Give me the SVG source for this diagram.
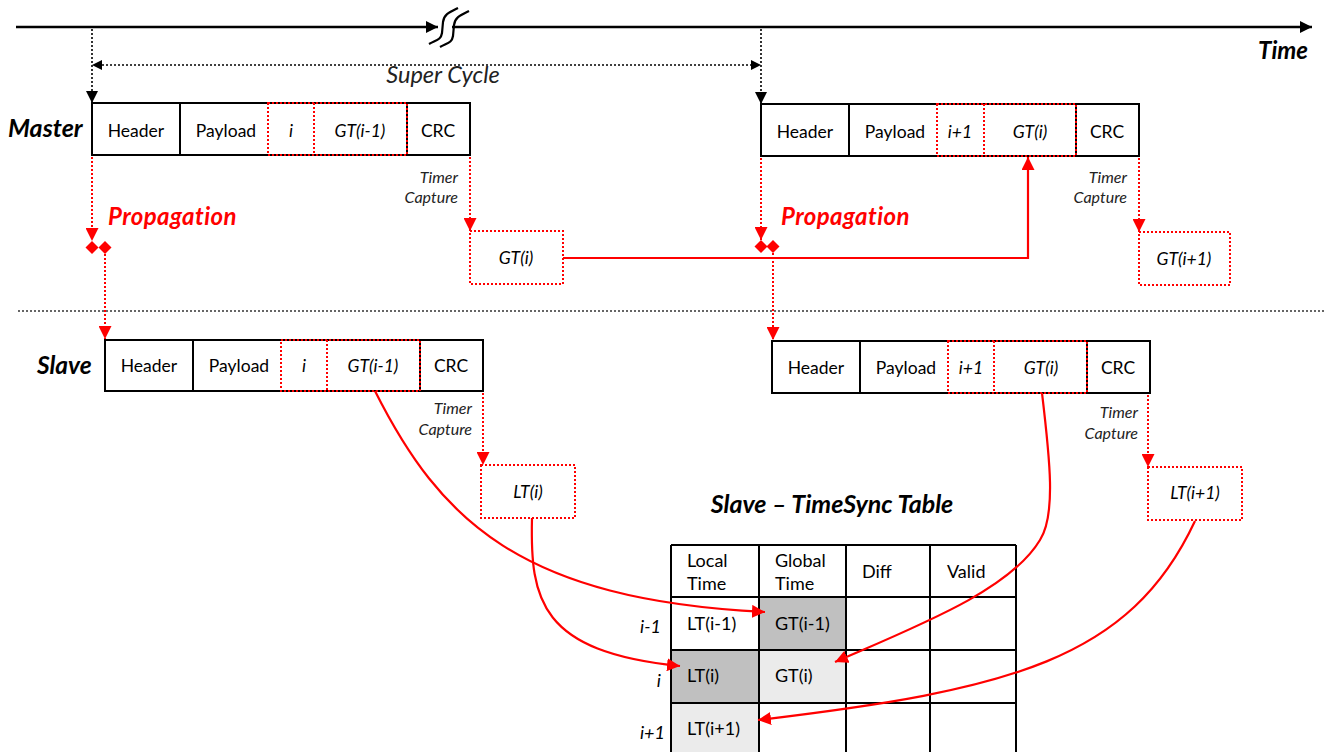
<svg xmlns="http://www.w3.org/2000/svg" width="1334" height="752" viewBox="0 0 1334 752">
<style>
text{font-family:Lato,"Open Sans","Liberation Sans",sans-serif;fill:#000}
.t{font-size:17.5px;text-anchor:middle}
.ti{font-size:17.5px;text-anchor:middle;font-style:italic}
.lbl{font-size:25px;font-weight:bold;font-style:italic}
.tc{font-size:16px;font-style:italic;text-anchor:end;fill:#222}
.prop{font-size:24px;font-weight:bold;font-style:italic;fill:#ff0000;letter-spacing:0.4px}
.cell{font-size:18px}
.rl{font-size:18px;font-style:italic;text-anchor:end}
.frame{fill:#fff;stroke:#000;stroke-width:2}
.div{stroke:#000;stroke-width:2}
.rdot{fill:none;stroke:#ff0000;stroke-width:2;stroke-dasharray:2 2}
.kdot{fill:none;stroke:#000;stroke-width:1.6;stroke-dasharray:2 2}
.red{fill:none;stroke:#ff0000;stroke-width:2.2}
.tab{fill:none;stroke:#000;stroke-width:2}
</style>
<defs>
<marker id="ak" viewBox="0 0 10 10" refX="10" refY="5" markerWidth="12" markerHeight="12" markerUnits="userSpaceOnUse" orient="auto"><path d="M0,0 L10,5 L0,10 Z" fill="#000"/></marker>
<marker id="ar" viewBox="0 0 10 10" refX="10" refY="5" markerWidth="13" markerHeight="13" markerUnits="userSpaceOnUse" orient="auto"><path d="M0,0 L10,5 L0,10 Z" fill="#ff0000"/></marker>
</defs>

<g id="time-axis">
<line x1="16" y1="27" x2="438" y2="27" stroke="#000" stroke-width="2.5" marker-end="url(#ak)"/>
<line x1="452" y1="27" x2="1312" y2="27" stroke="#000" stroke-width="2.5" marker-end="url(#ak)"/>
<path d="M429,44 C436,40 441,40 442,33 L443,22 C444,14 450,12 458,8" fill="none" stroke="#000" stroke-width="2.2"/>
<path d="M440,47 C447,43 452,43 453,36 L454,25 C455,17 461,15 469,11" fill="none" stroke="#000" stroke-width="2.2"/>
<text x="1308" y="59" class="lbl" style="font-size:24px" text-anchor="end">Time</text>
</g>

<g id="super-cycle">
<line x1="92" y1="29" x2="92" y2="103" class="kdot" marker-end="url(#ak)"/>
<line x1="761" y1="29" x2="761" y2="104" class="kdot" marker-end="url(#ak)"/>
<line x1="98" y1="65" x2="755" y2="65" class="kdot"/>
<path d="M92,65 L102,60 L102,70 Z" fill="#000"/>
<path d="M761,65 L751,60 L751,70 Z" fill="#000"/>
<text x="443" y="83" style="font-size:23.5px;font-style:italic;text-anchor:middle;fill:#222">Super Cycle</text>
</g>

<g id="master-label"><text x="8" y="137" class="lbl">Master</text></g>
<g id="slave-label"><text x="37" y="374" class="lbl" style="font-size:24.5px">Slave</text></g>

<g id="master-frame-1">
<rect x="92" y="103" width="378" height="52" class="frame"/>
<line x1="180" y1="103" x2="180" y2="155" class="div"/>
<line x1="407" y1="103" x2="407" y2="155" class="div"/>
<rect x="268" y="103" width="139" height="52" class="rdot"/>
<line x1="314" y1="103" x2="314" y2="155" class="rdot"/>
<text x="136" y="137" class="t">Header</text>
<text x="226" y="137" class="t">Payload</text>
<text x="291" y="137" class="ti">i</text>
<text x="360" y="137" class="ti">GT(i-1)</text>
<text x="438" y="137" class="t">CRC</text>
</g>

<g id="master-frame-2">
<rect x="761" y="104" width="378" height="52" class="frame"/>
<line x1="849" y1="104" x2="849" y2="156" class="div"/>
<line x1="1076" y1="104" x2="1076" y2="156" class="div"/>
<rect x="937" y="104" width="139" height="52" class="rdot"/>
<line x1="984" y1="104" x2="984" y2="156" class="rdot"/>
<text x="805" y="138" class="t">Header</text>
<text x="895" y="138" class="t">Payload</text>
<text x="960" y="138" class="ti">i+1</text>
<text x="1030" y="138" class="ti">GT(i)</text>
<text x="1107" y="138" class="t">CRC</text>
</g>

<g id="slave-frame-1">
<rect x="105" y="340" width="378" height="51" class="frame"/>
<line x1="193" y1="340" x2="193" y2="391" class="div"/>
<line x1="420" y1="340" x2="420" y2="391" class="div"/>
<rect x="281" y="340" width="139" height="51" class="rdot"/>
<line x1="327" y1="340" x2="327" y2="391" class="rdot"/>
<text x="149" y="372" class="t">Header</text>
<text x="239" y="372" class="t">Payload</text>
<text x="304" y="372" class="ti">i</text>
<text x="373" y="372" class="ti">GT(i-1)</text>
<text x="451" y="372" class="t">CRC</text>
</g>

<g id="slave-frame-2">
<rect x="772" y="341" width="378" height="52" class="frame"/>
<line x1="860" y1="341" x2="860" y2="393" class="div"/>
<line x1="1087" y1="341" x2="1087" y2="393" class="div"/>
<rect x="948" y="341" width="139" height="52" class="rdot"/>
<line x1="994" y1="341" x2="994" y2="393" class="rdot"/>
<text x="816" y="374" class="t">Header</text>
<text x="906" y="374" class="t">Payload</text>
<text x="971" y="374" class="ti">i+1</text>
<text x="1041" y="374" class="ti">GT(i)</text>
<text x="1118" y="374" class="t">CRC</text>
</g>

<g id="separator"><line x1="18" y1="311" x2="1326" y2="311" stroke="#333" stroke-width="1.3" stroke-dasharray="2 2"/></g>

<g id="propagation-1">
<text x="108" y="225" class="prop">Propagation</text>
<path d="M92,241 L98.5,247.5 L92,254 L85.5,247.5 Z" fill="#ff0000"/>
<path d="M105,241 L111.5,247.5 L105,254 L98.5,247.5 Z" fill="#ff0000"/>
</g>
<g id="propagation-2">
<text x="781" y="225" class="prop">Propagation</text>
<path d="M761,240 L767.5,246.5 L761,253 L754.5,246.5 Z" fill="#ff0000"/>
<path d="M773,240 L779.5,246.5 L773,253 L766.5,246.5 Z" fill="#ff0000"/>
</g>

<g id="master-capture-1">
<text x="458" y="183" class="tc">Timer</text>
<text x="458" y="203" class="tc">Capture</text>
<rect x="470" y="231" width="93" height="53" class="rdot" style="fill:#fff"/>
<text x="516" y="264" class="ti">GT(i)</text>
</g>
<g id="master-capture-2">
<text x="1127" y="183" class="tc">Timer</text>
<text x="1127" y="203" class="tc">Capture</text>
<rect x="1139" y="232" width="91" height="53" class="rdot" style="fill:#fff"/>
<text x="1184" y="265" class="ti">GT(i+1)</text>
</g>
<g id="slave-capture-1">
<text x="472" y="414" class="tc">Timer</text>
<text x="472" y="435" class="tc">Capture</text>
<rect x="481" y="465" width="94" height="53" class="rdot" style="fill:#fff"/>
<text x="528" y="498" class="ti">LT(i)</text>
</g>
<g id="slave-capture-2">
<text x="1138" y="418" class="tc">Timer</text>
<text x="1138" y="439" class="tc">Capture</text>
<rect x="1148" y="467" width="94" height="53" class="rdot" style="fill:#fff"/>
<text x="1195" y="499" class="ti">LT(i+1)</text>
</g>

<g id="table">
<text x="832" y="513" style="font-size:25px;font-weight:bold;font-style:italic;text-anchor:middle">Slave – TimeSync Table</text>
<rect x="759" y="597" width="87" height="53" fill="#c0c0c0"/>
<rect x="671" y="650" width="88" height="53" fill="#c0c0c0"/>
<rect x="759" y="650" width="87" height="53" fill="#ebebeb"/>
<rect x="671" y="703" width="88" height="52" fill="#ebebeb"/>
<path d="M671,545 H1016 M671,597 H1016 M671,650 H1016 M671,703 H1016 M671,545 V752 M759,545 V752 M846,545 V752 M930,545 V752 M1016,545 V752" class="tab"/>
<text x="687" y="567" class="cell">Local</text>
<text x="687" y="590" class="cell">Time</text>
<text x="775" y="567" class="cell">Global</text>
<text x="775" y="590" class="cell">Time</text>
<text x="862" y="578" class="cell">Diff</text>
<text x="947" y="578" class="cell">Valid</text>
<text x="687" y="630" class="cell">LT(i-1)</text>
<text x="775" y="630" class="cell">GT(i-1)</text>
<text x="687" y="682" class="cell">LT(i)</text>
<text x="775" y="682" class="cell">GT(i)</text>
<text x="687" y="735" class="cell">LT(i+1)</text>
<text x="661" y="633" class="rl">i-1</text>
<text x="661" y="687" class="rl">i</text>
<text x="665" y="739" class="rl">i+1</text>
</g>

<g id="connectors">
<line x1="92" y1="157" x2="92" y2="241" class="rdot" marker-end="url(#ar)"/>
<line x1="105" y1="254" x2="105" y2="339" class="rdot" marker-end="url(#ar)"/>
<line x1="761" y1="158" x2="761" y2="240" class="rdot" marker-end="url(#ar)"/>
<line x1="773" y1="253" x2="773" y2="340" class="rdot" marker-end="url(#ar)"/>
<line x1="470" y1="157" x2="470" y2="231" class="rdot" marker-end="url(#ar)"/>
<line x1="1139" y1="158" x2="1139" y2="232" class="rdot" marker-end="url(#ar)"/>
<line x1="483" y1="393" x2="483" y2="465" class="rdot" marker-end="url(#ar)"/>
<line x1="1148" y1="395" x2="1148" y2="467" class="rdot" marker-end="url(#ar)"/>
<path d="M563,258 H1028 V157" class="red" marker-end="url(#ar)"/>
<path d="M375,391 C440,520 520,600 765,612" class="red" marker-end="url(#ar)"/>
<path d="M532,518 C530,600 540,652 680,666" class="red" marker-end="url(#ar)"/>
<path d="M1042,393 C1050,460 1056,515 1040,540 C1010,590 920,625 835,662" class="red" marker-end="url(#ar)"/>
<path d="M1195,521 C1130,660 1010,690 758,720" class="red" marker-end="url(#ar)"/>
</g>
</svg>
